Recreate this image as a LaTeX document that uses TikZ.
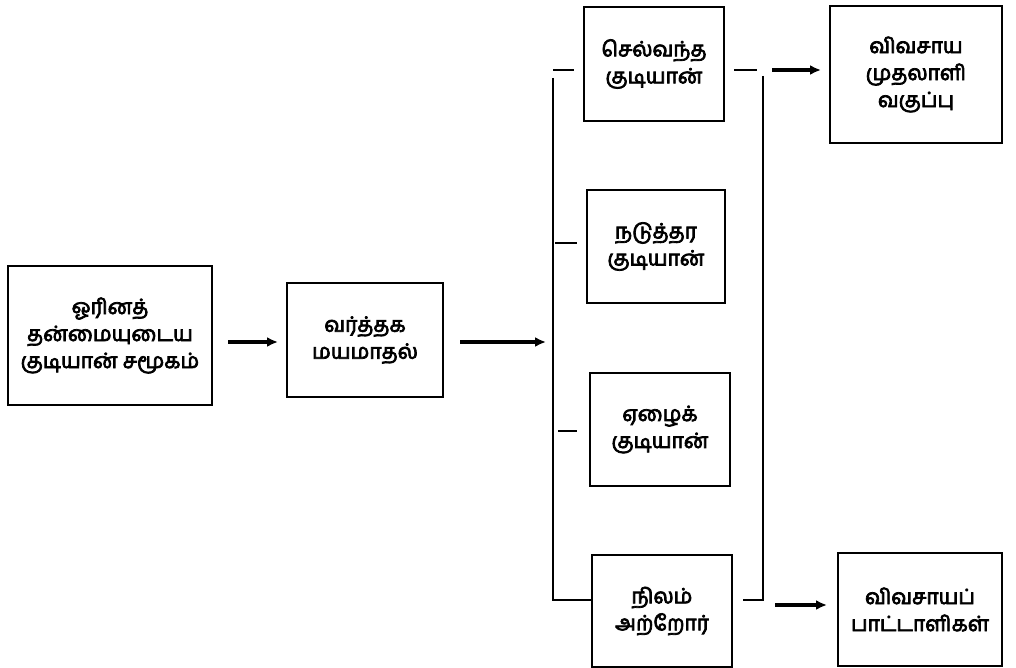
\documentclass[tikz,border=0pt]{standalone}
\usepackage{fontspec}
\newfontfamily\ta[Script=Tamil,FakeBold=3.5]{Hind Madurai}
\usetikzlibrary{arrows.meta}
\tikzset{
  box/.style={draw, line width=2pt, inner sep=0pt, align=center,
    font=\ta\fontsize{21}{27}\selectfont},
  conn/.style={line width=1.8pt},
  arr/.style={line width=3.2pt, -{Latex[length=11pt,width=10pt]}},
}
\begin{document}
\begin{tikzpicture}[x=1pt,y=-1pt]
\useasboundingbox (0,0) rectangle (1016,668);
% boxes
\node[box, minimum width=204pt, minimum height=139pt] (b1) at (110,335.5) {ஓரினத்\\தன்மையுடைய\\குடியான் சமூகம்};
\node[box, minimum width=156pt, minimum height=114pt] (b2) at (365,340) {வர்த்தக\\மயமாதல்};
\node[box, minimum width=140pt, minimum height=114pt] (m1) at (654,64) {செல்வந்த\\குடியான்};
\node[box, minimum width=138pt, minimum height=113pt] (m2) at (656,246.5) {நடுத்தர\\குடியான்};
\node[box, minimum width=140pt, minimum height=113pt] (m3) at (660,429.5) {ஏழைக்\\குடியான்};
\node[box, minimum width=140pt, minimum height=112pt] (m4) at (662,611) {நிலம்\\அற்றோர்};
\node[box, minimum width=172pt, minimum height=137pt] (r1) at (916,74.5) {விவசாய\\முதலாளி\\வகுப்பு};
\node[box, minimum width=164pt, minimum height=113pt] (r2) at (920,609.5) {விவசாயப்\\பாட்டாளிகள்};
% arrows between first boxes
\coordinate (a1s) at (228,342);
\coordinate (a2s) at (460,342);
\coordinate (lb) at (546,342);
\draw[arr] (a1s) -- ([xshift=-8pt]b2.west |- a1s);
\draw[arr] (a2s) -- (lb);
% left bracket
\coordinate (lt) at (553,78);
\coordinate (lbot) at (553,600);
\coordinate (t1) at (553,70);
\coordinate (t2) at (555,243);
\coordinate (t3) at (558,431);
\draw[conn] (lt) -- (lbot) -- (m4.west |- lbot);
\draw[conn] (t1) -- ([xshift=-9pt]m1.west |- t1);
\draw[conn] (t2) -- ([xshift=-9pt]m2.west |- t2);
\draw[conn] (t3) -- ([xshift=-12pt]m3.west |- t3);
% right bracket
\coordinate (rt) at (763,76);
\coordinate (rbot) at (763,600);
\coordinate (u1) at (757,70);
\coordinate (u4) at (743,600);
\draw[conn] (rt) -- (rbot) -- (u4);
\draw[conn] ([xshift=9pt]m1.east |- u1) -- (u1);
% outgoing arrows
\coordinate (o1) at (772,70);
\coordinate (o2) at (775,605);
\draw[arr] (o1) -- ([xshift=-8pt]r1.west |- o1);
\draw[arr] (o2) -- ([xshift=-10pt]r2.west |- o2);
\end{tikzpicture}
\end{document}
